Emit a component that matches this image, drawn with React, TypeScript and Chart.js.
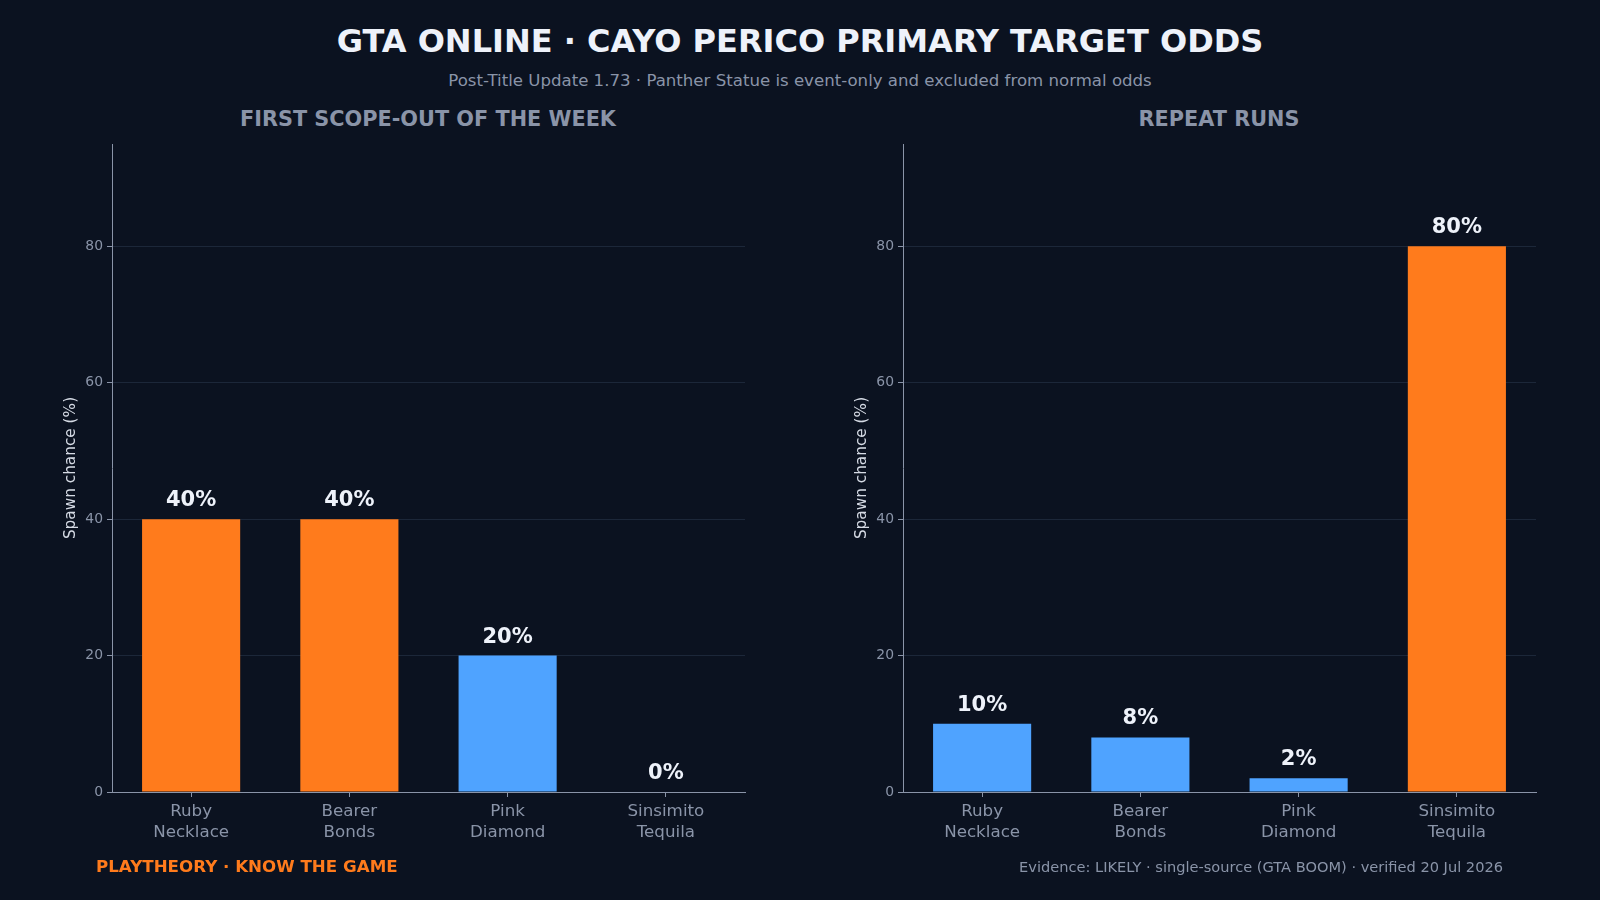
import React, { useEffect, useRef } from "react";
import { Chart, registerables } from "chart.js";

Chart.register(...registerables);

// ---- Data ----
const categories: string[][] = [
  ["Ruby", "Necklace"],
  ["Bearer", "Bonds"],
  ["Pink", "Diamond"],
  ["Sinsimito", "Tequila"],
];
const firstScopeOdds = [40, 40, 20, 0];
const repeatRunOdds = [10, 8, 2, 80];
const yTickValues = [0, 20, 40, 60, 80];
const yAxisMax = 95;

const TITLE = "GTA ONLINE · CAYO PERICO PRIMARY TARGET ODDS";
const SUBTITLE = "Post-Title Update 1.73 · Panther Statue is event-only and excluded from normal odds";
const LEFT_TITLE = "FIRST SCOPE-OUT OF THE WEEK";
const RIGHT_TITLE = "REPEAT RUNS";
const Y_LABEL = "Spawn chance (%)";
const FOOTER_LEFT = "PLAYTHEORY · KNOW THE GAME";
const FOOTER_RIGHT = "Evidence: LIKELY · single-source (GTA BOOM) · verified 20 Jul 2026";

// ---- Styles ----
const BG = "#0b1220";
const ORANGE = "#ff7b1c";
const BLUE = "#4fa3ff";
const GRID = "#1c2739";
const AXIS = "#8a94a8";
const MUTED = "#8a94a8";
const LIGHT = "#eef2fa";
const FONT = '"DejaVu Sans", sans-serif';

const valueLabels = {
  id: "valueLabels",
  afterDatasetsDraw(chart: any) {
    const ctx = chart.ctx;
    const meta = chart.getDatasetMeta(0);
    const data = chart.data.datasets[0].data as number[];
    ctx.save();
    ctx.font = `bold 21px ${FONT}`;
    ctx.fillStyle = LIGHT;
    ctx.textAlign = "center";
    ctx.textBaseline = "alphabetic";
    meta.data.forEach((bar: any, i: number) => {
      ctx.fillText(`${data[i]}%`, bar.x, bar.y - 13);
    });
    ctx.restore();
  },
};

function BarPanel(props: {
  values: number[];
  left: number;
  width: number;
  padLeft: number;
  padRight: number;
}) {
  const ref = useRef<HTMLCanvasElement | null>(null);
  const top = 120;
  const height = 740;
  useEffect(() => {
    if (!ref.current) return;
    const maxVal = Math.max(...props.values);
    const chart = new Chart(ref.current, {
      type: "bar",
      data: {
        labels: categories,
        datasets: [
          {
            data: props.values,
            backgroundColor: props.values.map((v) => (v === maxVal ? ORANGE : BLUE)),
            borderWidth: 0,
            barPercentage: 0.62,
            categoryPercentage: 1,
          },
        ],
      },
      options: {
        animation: false,
        responsive: false,
        devicePixelRatio: 1,
        layout: { padding: { left: props.padLeft, right: props.padRight, top: 144 - top, bottom: 0 } },
        plugins: { legend: { display: false }, tooltip: { enabled: false }, title: { display: false } },
        scales: {
          x: {
            offset: true,
            grid: { display: true, offset: false, drawOnChartArea: false, drawTicks: true, tickLength: 5, tickColor: AXIS },
            border: { display: true, color: AXIS, width: 1 },
            ticks: { color: MUTED, font: { family: FONT, size: 16.7, lineHeight: 1.25 }, padding: 4, maxRotation: 0 },
            afterFit: (s: any) => {
              s.height = top + height - 792;
            },
          },
          y: {
            min: 0,
            max: yAxisMax,
            grid: { color: GRID, lineWidth: 1, tickLength: 5, tickColor: AXIS },
            border: { display: true, color: AXIS, width: 1 },
            ticks: {
              color: MUTED,
              font: { family: FONT, size: 13.9 },
              padding: 4,
              stepSize: 20,
              includeBounds: false,
              callback: (v: any) => (yTickValues.includes(Number(v)) ? String(v) : null),
            },
            title: {
              display: true,
              text: Y_LABEL,
              color: "#d6dbe5",
              font: { family: FONT, size: 15.3 },
              padding: { top: 4, bottom: 4 },
            },
            afterFit: (s: any) => {
              s.width = 54;
            },
          },
        },
      },
      plugins: [valueLabels],
    });
    return () => chart.destroy();
  }, []);
  return (
    <canvas
      ref={ref}
      width={props.width}
      height={height}
      style={{ position: "absolute", left: props.left, top, width: props.width, height }}
    />
  );
}

function Text(props: { x: number; y: number; align: "left" | "center" | "right"; size: number; bold?: boolean; color: string; children: string }) {
  const w = 1400;
  let left = props.x;
  if (props.align === "center") left = props.x - w / 2;
  if (props.align === "right") left = props.x - w;
  return (
    <div
      style={{
        position: "absolute",
        left,
        top: props.y - props.size,
        width: w,
        height: props.size * 2,
        lineHeight: `${props.size * 2}px`,
        textAlign: props.align,
        fontFamily: FONT,
        fontSize: props.size,
        fontWeight: props.bold ? "bold" : "normal",
        color: props.color,
        whiteSpace: "nowrap",
      }}
    >
      {props.children}
    </div>
  );
}

export default function App() {
  useEffect(() => {
    document.body.style.margin = "0";
    document.body.style.background = BG;
  }, []);
  return (
    <div style={{ position: "absolute", left: 0, top: 0, width: 1600, height: 900, background: BG, overflow: "hidden" }}>
      <Text x={800} y={41} align="center" size={32} bold color={LIGHT}>{TITLE}</Text>
      <Text x={800} y={81} align="center" size={16.6} color={MUTED}>{SUBTITLE}</Text>
      <Text x={428} y={120} align="center" size={20.8} bold color={MUTED}>{LEFT_TITLE}</Text>
      <Text x={1219} y={120} align="center" size={20.8} bold color={MUTED}>{RIGHT_TITLE}</Text>
      <BarPanel values={firstScopeOdds} left={0} width={770} padLeft={58} padRight={25} />
      <BarPanel values={repeatRunOdds} left={790} width={770} padLeft={59} padRight={24} />
      <Text x={96} y={867} align="left" size={16.7} bold color={ORANGE}>{FOOTER_LEFT}</Text>
      <Text x={1503} y={867} align="right" size={14.6} color={MUTED}>{FOOTER_RIGHT}</Text>
    </div>
  );
}
